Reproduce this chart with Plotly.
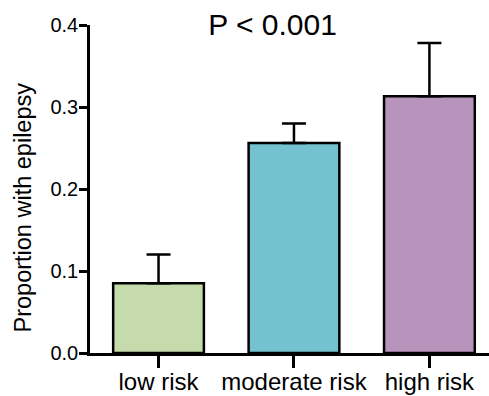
import plotly.graph_objects as go

# Proportion of patients with epilepsy by risk group (mean and upper SEM)
categories = ["low risk", "moderate risk", "high risk"]
proportion = [0.085, 0.256, 0.313]
sem_upper = [0.035, 0.024, 0.065]
bar_colors = ["#c6dbab", "#74c2cf", "#b894bd"]
y_ticks = [0.0, 0.1, 0.2, 0.3, 0.4]
y_tick_text = ["0.0", "0.1", "0.2", "0.3", "0.4"]
p_value_text = "P < 0.001"
y_title = "Proportion with epilepsy"

FONT = "Liberation Sans, Arial, Helvetica, sans-serif"

fig = go.Figure(
    go.Bar(
        x=categories,
        y=proportion,
        width=0.67,
        marker=dict(color=bar_colors, line=dict(color="black", width=2.5)),
        error_y=dict(
            type="data",
            symmetric=False,
            array=sem_upper,
            arrayminus=[0] * len(sem_upper),
            color="black",
            thickness=2.5,
            width=12,
        ),
    )
)

fig.update_layout(
    width=489,
    height=396,
    margin=dict(l=90, r=0, t=25, b=43),
    plot_bgcolor="white",
    paper_bgcolor="white",
    showlegend=False,
    font=dict(family=FONT, color="black"),
    title=dict(
        text=p_value_text,
        font=dict(family=FONT, size=30, color="black"),
        xref="container",
        yref="container",
        x=272.5 / 489,
        y=1 - 24 / 396,
        xanchor="center",
        yanchor="middle",
    ),
    xaxis=dict(
        range=[-0.506, 2.44],
        automargin=False,
        showline=True,
        linecolor="black",
        linewidth=2.5,
        ticks="outside",
        ticklen=12,
        tickwidth=2.5,
        tickcolor="black",
        tickfont=dict(family=FONT, size=24, color="black"),
        ticklabelstandoff=-7,
        showgrid=False,
        zeroline=False,
    ),
    yaxis=dict(
        range=[0, 0.4],
        automargin=False,
        tickvals=y_ticks,
        ticktext=y_tick_text,
        showline=True,
        linecolor="black",
        linewidth=2.5,
        ticks="outside",
        ticklen=8,
        tickwidth=2.5,
        tickcolor="black",
        tickfont=dict(family=FONT, size=20, color="black"),
        ticklabelstandoff=-3,
        showgrid=False,
        zeroline=False,
    ),
    annotations=[
        dict(
            text=y_title,
            textangle=-90,
            xref="paper",
            yref="paper",
            x=(22 - 90) / 399,
            y=(353 - 207.5) / 328,
            xanchor="center",
            yanchor="middle",
            showarrow=False,
            font=dict(family=FONT, size=23.5, color="black"),
        )
    ],
)

fig.write_html("out.html")
